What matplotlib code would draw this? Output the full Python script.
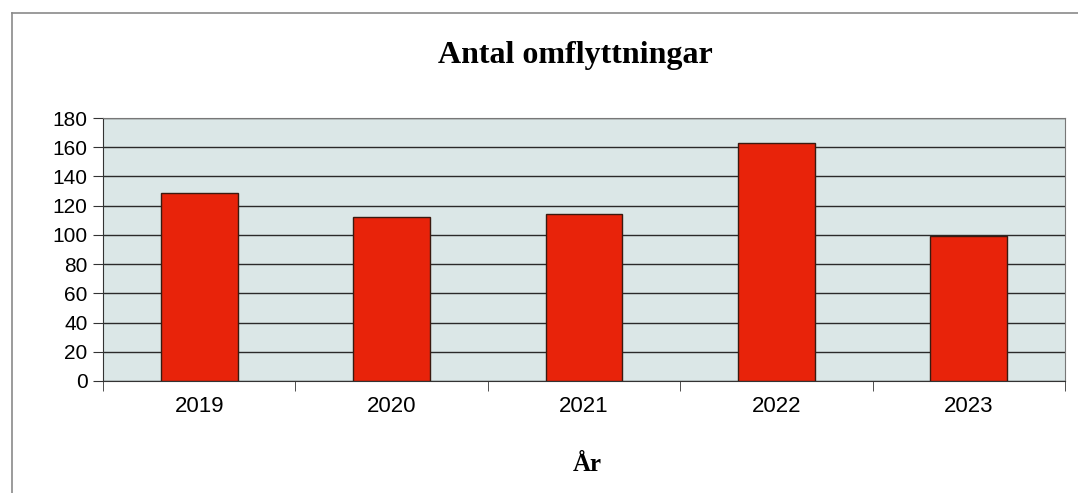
import matplotlib.pyplot as plt
from matplotlib.lines import Line2D
import numpy as np

# Antal omflyttningar per år
years = ["2019", "2020", "2021", "2022", "2023"]
moves = [129, 112, 114, 163, 99]
y_ticks = [0, 20, 40, 60, 80, 100, 120, 140, 160, 180]

fig = plt.figure(figsize=(10.78, 4.93), dpi=100)
ax = fig.add_axes([0.0955, 0.2272, 0.8925, 0.5334])

x = np.arange(len(years))
ax.set_facecolor("#dbe7e7")
ax.set_axisbelow(True)
ax.yaxis.grid(True, color="#2a2a2a", linewidth=1.0)
ax.bar(x, moves, width=0.4, color="#e8230a", edgecolor="#3a1a10", linewidth=1.0, zorder=3)

ax.set_xlim(-0.5, len(years) - 0.5)
ax.set_ylim(0, 180)
ax.set_yticks(y_ticks)
ax.set_xticks(x)
ax.set_xticklabels(years)
ax.set_xticks(np.arange(-0.5, len(years)), minor=True)
ax.tick_params(axis="x", which="major", length=0, pad=11, labelsize=16)
ax.tick_params(axis="x", which="minor", length=7, direction="out", color="#333333")
ax.tick_params(axis="y", length=7, direction="out", color="#333333", labelsize=15, pad=4)
for lab in ax.get_xticklabels() + ax.get_yticklabels():
    lab.set_fontfamily("Liberation Sans")

for side in ["left", "bottom"]:
    ax.spines[side].set_color("#333333")
for side in ["top", "right"]:
    ax.spines[side].set_color("#777777")

fig.text(0.534, 0.888, "Antal omflyttningar", ha="center", va="center",
         fontsize=23, fontweight="bold", family="Liberation Serif")
fig.text(0.545, 0.057, "År", ha="center", va="center",
         fontsize=18, fontweight="bold", family="Liberation Serif")

# ram runt diagrammet (bara vänster- och överkant syns)
fig.add_artist(Line2D([12 / 1078, 1.0], [1 - 13 / 493, 1 - 13 / 493],
                      transform=fig.transFigure, color="#8a8a8a", linewidth=1.2))
fig.add_artist(Line2D([12 / 1078, 12 / 1078], [0.0, 1 - 13 / 493],
                      transform=fig.transFigure, color="#8a8a8a", linewidth=1.2))

fig.savefig("out.png", dpi=100)
